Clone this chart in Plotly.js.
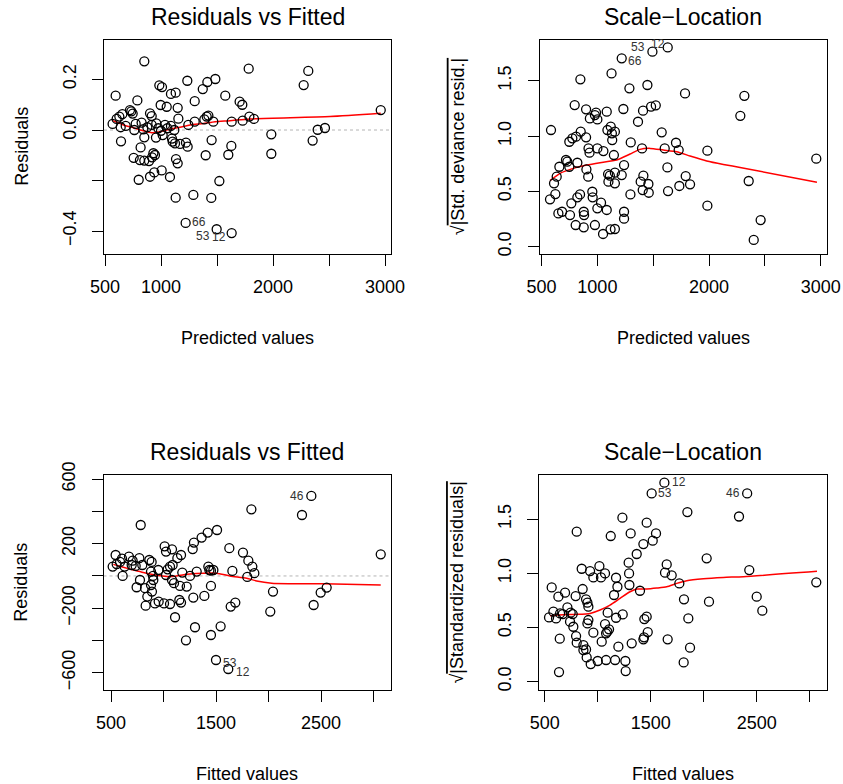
<!DOCTYPE html>
<html>
<head>
<meta charset="utf-8">
<script src="https://cdn.plot.ly/plotly-3.0.1.min.js"></script>
<style>html,body{margin:0;padding:0;background:#fff;}#plot{width:843px;height:784px;}</style>
</head>
<body>
<div id="plot"></div>
<script>
// ---------- Panel 1: Residuals vs Fitted (predicted values) ----------
const p1X = [851,1783,2315,2274,1235,1414,1485,1373,985,1009,1089,1131,595,789,1301,1574,1702,1726,997,1051,1149,723,735,747,655,628,604,902,917,1155,1408,1423,1387,1467,1301,1244,1631,1729,1789,1830,568,640,685,762,774,827,842,878,917,958,976,1000,1036,1057,1089,1119,851,955,1015,643,1104,1125,1170,1223,1238,1098,1452,1985,1985,2354,2399,2464,818,756,812,851,893,932,946,920,1134,1149,1399,1601,1628,940,1006,902,801,1080,1521,1131,1289,1449,1220,1497,1631,2962];
const p1Y = [0.272,0.243,0.234,0.178,0.195,0.190,0.202,0.162,0.177,0.170,0.143,0.148,0.136,0.117,0.114,0.136,0.112,0.100,0.099,0.092,0.088,0.079,0.074,0.065,0.063,0.053,0.044,0.066,0.055,0.045,0.053,0.057,0.042,0.033,0.033,0.020,0.033,0.037,0.053,0.044,0.024,0.011,0.016,0.000,0.024,0.029,0.003,0.011,0.020,0.026,0.007,-0.003,0.020,0.007,0.016,0.000,-0.029,-0.030,-0.020,-0.045,-0.046,-0.053,-0.055,-0.050,-0.066,-0.034,-0.040,-0.017,-0.094,-0.042,0.001,0.008,-0.069,-0.110,-0.119,-0.121,-0.123,-0.092,-0.099,-0.108,-0.115,-0.132,-0.100,-0.098,-0.063,-0.168,-0.160,-0.185,-0.197,-0.186,-0.202,-0.268,-0.257,-0.269,-0.368,-0.393,-0.408,0.079];
const p1LineX = [568,664,753,842,917,991,1080,1170,1259,1378,1482,1616,1795,2509,2962];
const p1LineY = [0.037,0.020,0.009,-0.003,-0.011,-0.007,0.003,0.011,0.020,0.026,0.033,0.037,0.044,0.053,0.066];
const p1LabText = ['66','53','12'];
const p1LabX = [1339,1372,1515];
const p1LabY = [-0.366,-0.420,-0.425];

// ---------- Panel 2: Scale-Location (predicted values) ----------
const p2X = [585,576,624,612,636,651,684,660,719,731,749,821,755,767,806,821,845,848,797,749,776,809,851,899,878,881,878,899,902,918,921,930,933,978,988,1000,1000,955,958,978,1000,1033,1054,1051,1084,1084,1090,1120,1130,1133,1157,1148,1127,1096,1112,1099,1118,1157,1157,1157,1218,1233,1239,1218,1239,1239,1287,1299,1296,1364,1409,1400,1412,1388,1406,1457,1460,1448,1481,1523,1493,1630,1576,1603,1627,1633,1704,1728,1734,1791,1830,1785,1985,1985,2280,2316,2355,2400,2462,2960];
const p2Y = [1.055,0.428,0.476,0.573,0.633,0.301,0.316,0.723,0.784,0.769,0.723,0.759,0.286,0.392,0.196,0.446,0.473,1.513,1.281,0.949,0.980,0.995,1.040,0.989,0.316,0.286,0.175,1.242,0.699,0.633,0.889,0.850,1.160,1.190,1.212,1.151,0.889,0.497,0.446,0.196,0.347,0.398,0.865,0.115,0.332,1.221,1.055,1.085,1.025,0.964,1.040,0.829,1.567,0.657,0.642,0.588,0.157,0.160,0.573,0.669,1.703,1.245,0.738,0.648,0.316,0.253,1.432,0.943,0.473,1.130,1.230,0.889,0.642,0.588,0.512,0.567,0.488,1.462,1.266,1.278,1.763,1.802,1.034,0.889,0.717,0.503,0.940,0.874,0.549,0.639,0.564,1.386,0.868,0.371,1.183,1.364,0.594,0.061,0.241,0.796];
const p2LineX = [576,666,785,904,1024,1173,1293,1382,1472,1591,1710,1830,1979,2128,2278,2966];
const p2LineY = [0.597,0.663,0.708,0.738,0.760,0.784,0.838,0.880,0.889,0.874,0.859,0.820,0.775,0.744,0.717,0.582];
const p2LabText = ['66','53','12'];
const p2LabX = [1337,1366,1540];
const p2LabY = [1.676,1.806,1.833];

// ---------- Panel 3: Residuals vs Fitted (fitted values) ----------
const p3X = [544,516,554,586,605,630,611,671,706,697,735,770,783,798,744,776,824,846,830,865,887,881,881,903,900,890,919,954,951,1011,1024,1081,1005,1062,1040,1062,1024,1081,1100,1087,1132,1167,1110,1151,1167,1157,1179,1221,1252,1316,1284,1300,1214,1278,1290,1363,1421,1510,1389,1427,1437,1452,1475,1452,1452,1544,1500,1617,1627,1656,1640,1684,1757,1808,1846,1865,1798,1837,2043,2017,2319,2408,2430,2497,2554,3069];
const p3Y = [130,58,74,87,107,58,0,120,95,68,62,110,316,68,-70,-25,-76,-128,-184,99,87,27,-56,-25,0,-97,-170,-159,37,184,151,165,-170,-174,41,58,6,-25,-45,68,110,130,-256,-149,-165,-62,21,-66,0,27,-134,-318,-399,167,207,238,269,285,-124,58,37,33,37,-62,-366,-312,-521,-577,172,31,-190,-165,145,95,58,17,-6,413,-97,-221,378,496,-180,-103,-72,134];
const p3LineX = [522,617,713,808,935,1062,1157,1252,1379,1506,1633,1792,1887,2030,2205,2522,3069];
const p3LineY = [72,54,37,21,4,-4,4,12,17,17,0,-14,-31,-45,-48,-48,-56];
const p3LabText = ['46','53','12'];
const p3LabX = [2274,1633,1754];
const p3LabY = [496,-537,-593];

// ---------- Panel 4: Scale-Location (fitted values) ----------
const p4X = [541,582,607,645,670,714,745,764,739,770,796,802,865,865,890,896,934,642,635,566,629,692,792,858,802,849,890,903,912,912,903,928,959,959,1000,1016,1031,1038,1069,1079,1079,1091,1107,1069,1094,1123,1154,1164,1173,1186,1173,1195,1236,1233,1261,1264,1292,1296,1299,1311,1321,1368,1399,1431,1462,1519,1550,1431,1437,1440,1462,1472,1509,1629,1651,1635,1698,1770,1660,1814,1855,1871,1811,1846,2028,2050,2333,2410,2430,2500,2553,3062];
const p4Y = [0.593,0.646,0.584,0.630,0.624,0.686,0.637,0.624,0.554,0.507,0.421,0.360,0.338,0.292,0.298,0.224,0.163,0.397,0.089,0.870,0.784,0.821,0.790,0.855,1.384,1.042,0.760,0.729,0.692,0.569,0.538,1.021,0.962,0.452,0.191,1.067,0.962,0.369,0.532,0.200,0.446,0.461,0.483,0.999,0.637,1.344,0.800,0.200,0.959,0.876,0.590,0.323,0.621,1.513,0.191,0.098,1.098,0.999,0.892,1.368,0.354,1.178,0.839,1.270,1.467,1.301,1.368,0.391,0.409,0.578,0.600,0.458,1.737,1.836,1.082,1.006,0.981,0.907,0.391,0.760,0.584,0.314,0.178,1.565,1.138,0.738,1.524,1.737,1.030,0.784,0.655,0.917];
const p4LineX = [550,676,802,928,1022,1116,1211,1305,1368,1462,1557,1651,1745,1840,1997,2186,2374,3069];
const p4LineY = [0.609,0.618,0.621,0.630,0.661,0.707,0.769,0.830,0.855,0.855,0.864,0.876,0.907,0.932,0.950,0.962,0.969,1.018];
const p4LabText = ['12','53','46'];
const p4LabX = [1771,1635,2279];
const p4LabY = [1.845,1.744,1.744];

// ---------- Texts ----------
const titles = ['Residuals vs Fitted','Scale\u2212Location','Residuals vs Fitted','Scale\u2212Location'];
const xTitles = ['Predicted values','Predicted values','Fitted values','Fitted values'];
const yTitles = ['Residuals','\u221A<span style="text-decoration:overline">|Std. deviance resid.|</span>','Residuals','\u221A<span style="text-decoration:overline">|Standardized residuals|</span>'];

const topXTickVals = [500,1000,1500,2000,2500,3000];
const topXTickText = ['500','1000','','2000','','3000'];
const botXTickVals = [500,1000,1500,2000,2500,3000];
const botXTickText = ['500','','1500','','2500',''];
const p1YTickVals = [-0.4,-0.2,0.0,0.2];
const p1YTickText = ['\u22120.4','','0.0','0.2'];
const slYTickVals = [0.0,0.5,1.0,1.5];
const slYTickText = ['0.0','0.5','1.0','1.5'];
const p3YTickVals = [-600,-400,-200,0,200,400,600];
const p3YTickText = ['\u2212600','','\u2212200','','200','','600'];

// ---------- Build ----------
const FONT = 'Liberation Sans, Arial, Helvetica, sans-serif';
const W = 843, H = 784;
const boxes = [ // pixel boxes [left, right, top, bottom]
  [104, 391, 40, 253.5],
  [539.5, 827, 40, 253.5],
  [103.5, 391, 475, 689.5],
  [539.3, 827.3, 475, 689.5]
];
const xRanges = [[491.1,3053.6],[482,3056],[428.6,3166.7],[449,3166]];
const yRanges = [[-0.489,0.3564],[-0.0615,1.869],[-704,626],[-0.072,1.907]];
const panels = [
  {x:p1X,y:p1Y,lx:p1LineX,ly:p1LineY,labT:p1LabText,labX:p1LabX,labY:p1LabY,xtv:topXTickVals,xtt:topXTickText,ytv:p1YTickVals,ytt:p1YTickText,zero:true},
  {x:p2X,y:p2Y,lx:p2LineX,ly:p2LineY,labT:p2LabText,labX:p2LabX,labY:p2LabY,xtv:topXTickVals,xtt:topXTickText,ytv:slYTickVals,ytt:slYTickText,zero:false},
  {x:p3X,y:p3Y,lx:p3LineX,ly:p3LineY,labT:p3LabText,labX:p3LabX,labY:p3LabY,xtv:botXTickVals,xtt:botXTickText,ytv:p3YTickVals,ytt:p3YTickText,zero:true},
  {x:p4X,y:p4Y,lx:p4LineX,ly:p4LineY,labT:p4LabText,labX:p4LabX,labY:p4LabY,xtv:botXTickVals,xtt:botXTickText,ytv:slYTickVals,ytt:slYTickText,zero:false}
];

const data = [];
const layout = {
  width: W, height: H,
  margin: {l:0, r:0, t:0, b:0, pad:0},
  paper_bgcolor: '#fff', plot_bgcolor: '#fff',
  showlegend: false,
  font: {family: FONT, color: '#000', size: 18},
  annotations: [], shapes: []
};

panels.forEach((p, i) => {
  const n = i + 1;
  const xa = 'x' + (n === 1 ? '' : n), ya = 'y' + (n === 1 ? '' : n);
  const xk = 'xaxis' + (n === 1 ? '' : n), yk = 'yaxis' + (n === 1 ? '' : n);
  const b = boxes[i];
  layout[xk] = {
    domain: [b[0]/W, b[1]/W], range: xRanges[i], anchor: ya,
    showgrid: false, zeroline: false, showline: true, mirror: true,
    linecolor: '#000', linewidth: 1,
    ticks: 'outside', ticklen: 11, tickwidth: 1, tickcolor: '#000',
    tickmode: 'array', tickvals: p.xtv, ticktext: p.xtt,
    tickfont: {family: FONT, size: 18, color: '#000'}, ticklabelstandoff: 6
  };
  layout[yk] = {
    domain: [1 - b[3]/H, 1 - b[2]/H], range: yRanges[i], anchor: xa,
    showgrid: false, zeroline: false, showline: true, mirror: true,
    linecolor: '#000', linewidth: 1,
    ticks: 'outside', ticklen: 11, tickwidth: 1, tickcolor: '#000',
    tickmode: 'array', tickvals: p.ytv, ticktext: p.ytt, tickangle: -90,
    tickfont: {family: FONT, size: 18, color: '#000'}, ticklabelstandoff: 9
  };
  if (p.zero) {
    layout.shapes.push({type:'line', xref: xa + ' domain', yref: ya, x0: 0, x1: 1, y0: 0, y1: 0,
      line: {color: '#b4b4b4', width: 1, dash: 'dot'}, layer: 'below'});
  }
  data.push({type:'scatter', mode:'lines', x: p.lx, y: p.ly, xaxis: xa, yaxis: ya,
    line: {color: '#ff0000', width: 1.5, shape: 'spline', smoothing: 0.6}, hoverinfo: 'skip'});
  data.push({type:'scatter', mode:'markers', x: p.x, y: p.y, xaxis: xa, yaxis: ya,
    marker: {symbol: 'circle-open', size: 9, color: '#000', line: {width: 1.3, color: '#000'}}});
  p.labT.forEach((t, k) => {
    layout.annotations.push({xref: xa, yref: ya, x: p.labX[k], y: p.labY[k], text: t, showarrow: false,
      font: {family: FONT, size: 12, color: '#333'}, xanchor: 'center', yanchor: 'middle', borderpad: 0});
  });
  const cx = (b[0] + b[1]) / 2 / W;
  const cy = 1 - (b[2] + b[3]) / 2 / H;
  // main title
  layout.annotations.push({xref:'paper', yref:'paper', x: cx, y: 1 - (b[2] - 23) / H, text: titles[i],
    showarrow:false, font:{family: FONT, size: 23, color:'#000'}, xanchor:'center', yanchor:'middle'});
  // x title
  layout.annotations.push({xref:'paper', yref:'paper', x: cx, y: 1 - (b[3] + 84.5) / H, text: xTitles[i],
    showarrow:false, font:{family: FONT, size: 18, color:'#000'}, xanchor:'center', yanchor:'middle'});
  // y title
  layout.annotations.push({xref:'paper', yref:'paper', x: (b[0] - 82) / W, y: cy, text: yTitles[i], textangle: -90,
    showarrow:false, font:{family: FONT, size: 18, color:'#000'}, xanchor:'center', yanchor:'middle'});
});

Plotly.newPlot('plot', data, layout, {staticPlot: true, displayModeBar: false});
</script>
</body>
</html>
